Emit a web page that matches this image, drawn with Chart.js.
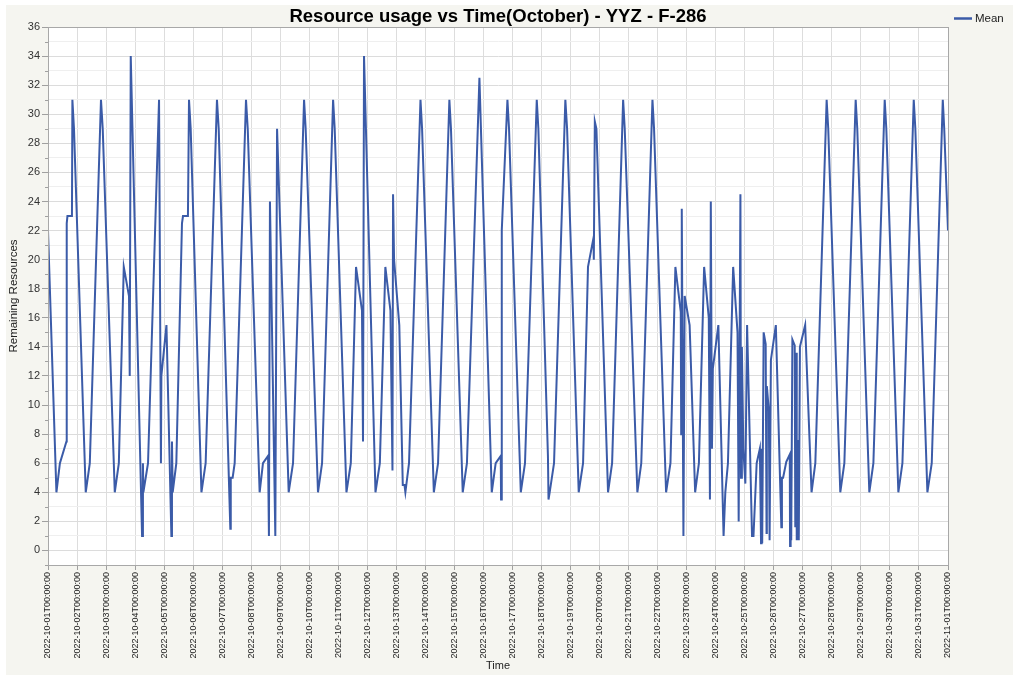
<!DOCTYPE html>
<html><head><meta charset="utf-8">
<script src="https://cdn.jsdelivr.net/npm/chart.js@4"></script>
<style>html,body{margin:0;padding:0;background:#fff;}canvas{display:block;}</style>
</head><body>
<canvas id="c" width="1013" height="675"></canvas>
<script>
// Time in days since 2022-10-01T00:00:00
const timeDays = [
  0.00,0.29,0.41,0.635,0.645,0.67,0.825,0.84,0.895,
  1.30,1.44,1.825,1.885,
  2.30,2.44,2.61,2.79,2.815,2.85,
  3.24,3.27,3.285,3.445,3.825,3.89,3.905,
  4.08,4.25,4.27,4.295,4.42,4.615,4.65,4.82,4.857,4.915,
  5.285,5.43,5.82,5.88,
  6.28,6.295,6.36,6.43,6.82,6.88,
  7.29,7.405,7.58,7.61,7.645,7.83,7.89,
  8.29,8.44,8.82,8.875,
  9.30,9.44,9.82,9.875,
  10.28,10.43,10.61,10.815,10.85,10.885,
  11.28,11.43,11.62,11.795,11.865,11.885,11.92,
  12.10,12.22,12.28,12.31,12.435,12.83,12.885,
  13.29,13.435,13.825,13.88,
  14.285,14.43,14.86,
  15.285,15.42,15.595,15.605,15.63,15.825,15.88,
  16.285,16.43,16.835,16.89,
  17.22,17.24,17.28,17.43,17.82,17.88,
  18.28,18.43,18.60,18.79,18.80,18.835,18.89,
  19.29,19.43,19.81,19.865,
  20.30,20.435,20.82,20.875,
  21.29,21.44,21.61,21.795,21.81,21.83,21.887,21.93,
  22.10,22.29,22.42,22.60,22.76,22.80,22.83,22.87,22.90,
  23.09,23.27,23.33,23.42,23.60,23.75,23.79,23.85,23.87,23.90,23.95,
  24.02,24.08,24.25,24.30,24.41,24.52,24.56,24.58,24.60,24.65,24.72,24.75,24.76,24.83,24.855,24.90,
  25.07,25.26,25.28,25.32,25.43,25.55,25.56,25.58,25.60,25.64,25.72,25.74,25.77,25.79,25.84,25.86,25.90,
  26.08,26.30,26.43,26.82,26.875,
  27.29,27.43,27.82,27.875,
  28.29,28.43,28.82,28.875,
  29.29,29.43,29.82,29.875,
  30.29,30.44,30.82,30.87,31.00
];
const meanValues = [
  22,4,6,7.5,22.5,23,23,31,29,
  4,6,31,29,
  4,6,19.5,17.5,12,34,
  1,6,4,6,31,6,12,
  15.5,1,7.5,4,6,22.5,23,23,31,29,
  4,6,31,29,
  1.5,5,5,6,31,29,
  4,6,6.5,1,24,1,29,
  4,6,31,29,
  4,6,31,29,
  4,6,19.5,16.5,7.5,34,
  4,6,19.5,16.5,5.5,24.5,20,
  15.5,4.5,4.5,4,6,31,29,
  4,6,31,29,
  4,6,32.5,
  4,6,6.5,3.5,22,31,29,
  4,6,31,29,
  6.5,3.5,4,6,31,29,
  4,6,19.5,21.5,20,29.5,29,
  4,6,31,29,
  4,6,31,29,
  4,6,19.5,16.4,8,23.5,1,17.5,
  15.5,4,6,19.5,16,3.5,24,7,12.5,
  15.5,1,4,6,19.5,15,2,24.5,5,14,7,
  4.6,15.5,1,1,6,7,0.5,7,0.5,15,14.2,1.2,11.3,9.6,0.7,13.1,
  15.5,1.6,5,5,6.1,6.6,0.3,5.1,0.7,14.5,14.1,1.6,13.6,0.7,7.6,0.7,14,
  15.5,4,6,31,29,
  4,6,31,29,
  4,6,31,29,
  4,6,31,29,
  4,6,31,29,22
];
const xTickLabels = [
  "2022-10-01T00:00:00","2022-10-02T00:00:00","2022-10-03T00:00:00","2022-10-04T00:00:00",
  "2022-10-05T00:00:00","2022-10-06T00:00:00","2022-10-07T00:00:00","2022-10-08T00:00:00",
  "2022-10-09T00:00:00","2022-10-10T00:00:00","2022-10-11T00:00:00","2022-10-12T00:00:00",
  "2022-10-13T00:00:00","2022-10-14T00:00:00","2022-10-15T00:00:00","2022-10-16T00:00:00",
  "2022-10-17T00:00:00","2022-10-18T00:00:00","2022-10-19T00:00:00","2022-10-20T00:00:00",
  "2022-10-21T00:00:00","2022-10-22T00:00:00","2022-10-23T00:00:00","2022-10-24T00:00:00",
  "2022-10-25T00:00:00","2022-10-26T00:00:00","2022-10-27T00:00:00","2022-10-28T00:00:00",
  "2022-10-29T00:00:00","2022-10-30T00:00:00","2022-10-31T00:00:00","2022-11-01T00:00:00"
];
const chartTitle = "Resource usage vs Time(October) - YYZ - F-286";
const seriesName = "Mean";
const xAxisTitle = "Time";
const yAxisTitle = "Remaining Resources";

const LINE_COLOR = '#3b5ba8';
const FONT = '"Liberation Sans", Arial, Helvetica, sans-serif';

const decor = {
  id: 'decor',
  beforeDraw(chart) {
    const ctx = chart.ctx, a = chart.chartArea;
    ctx.save();
    ctx.fillStyle = '#ffffff';
    ctx.fillRect(0, 0, chart.width, chart.height);
    ctx.fillStyle = '#f5f5f0';
    ctx.fillRect(6, 5, chart.width - 6, chart.height - 5);
    ctx.fillStyle = '#ffffff';
    ctx.fillRect(a.left, a.top, a.right - a.left, a.bottom - a.top);
    ctx.restore();
  },
  afterDraw(chart) {
    const ctx = chart.ctx, a = chart.chartArea;
    const ys = chart.scales.y;
    ctx.save();
    // minor ticks
    ctx.strokeStyle = '#a0a0a0';
    ctx.lineWidth = 1;
    for (let v = -1; v <= 36; v++) {
      if (v % 2 !== 0) {
        const y = Math.round(ys.getPixelForValue(v)) + 0.5;
        ctx.beginPath(); ctx.moveTo(a.left - 3, y); ctx.lineTo(a.left, y); ctx.stroke();
      }
    }
    // border
    ctx.strokeStyle = '#a8a8a8';
    ctx.strokeRect(Math.round(a.left) + 0.5, Math.round(a.top) + 0.5,
                   Math.round(a.right - a.left), Math.round(a.bottom - a.top));
    // title
    ctx.fillStyle = '#000';
    ctx.font = 'bold 18.5px ' + FONT;
    ctx.textAlign = 'center';
    ctx.textBaseline = 'middle';
    ctx.fillText(chartTitle, (a.left + a.right) / 2, 16.5);
    // legend
    const ds = chart.data.datasets[0];
    ctx.strokeStyle = ds.borderColor;
    ctx.lineWidth = 2.5;
    ctx.beginPath(); ctx.moveTo(954, 18.5); ctx.lineTo(972, 18.5); ctx.stroke();
    ctx.fillStyle = '#222';
    ctx.font = '11.5px ' + FONT;
    ctx.textAlign = 'left';
    ctx.fillText(ds.label, 975, 19);
    ctx.restore();
  }
};

new Chart(document.getElementById('c'), {
  type: 'line',
  data: {
    datasets: [{
      label: seriesName,
      data: timeDays.map((d, i) => ({ x: d, y: meanValues[i] })),
      borderColor: LINE_COLOR,
      backgroundColor: LINE_COLOR,
      borderWidth: 2,
      pointRadius: 0,
      tension: 0,
      fill: false
    }]
  },
  options: {
    responsive: false,
    animation: false,
    devicePixelRatio: 1,
    events: [],
    layout: { padding: { left: 0, right: 65, top: 27, bottom: 0 } },
    plugins: { legend: { display: false }, title: { display: false }, tooltip: { enabled: false } },
    scales: {
      x: {
        type: 'linear', min: 0, max: 31,
        afterFit(s) { s.height = 110; },
        ticks: {
          stepSize: 1, autoSkip: false, minRotation: 90, maxRotation: 90,
          font: { family: FONT, size: 9 }, color: '#222', padding: 2,
          callback: (v) => xTickLabels[Math.round(v)]
        },
        grid: { color: '#dddddd', tickLength: 5, tickColor: '#a0a0a0', lineWidth: 1 },
        border: { color: '#a8a8a8' },
        title: { display: true, text: xAxisTitle, font: { family: FONT, size: 11 }, color: '#222', padding: { top: 0, bottom: 2 } }
      },
      y: {
        type: 'linear', min: -1, max: 36,
        afterFit(s) { s.width = 48; },
        ticks: {
          stepSize: 1, autoSkip: false,
          font: { family: FONT, size: 11 }, color: '#333', padding: 2,
          callback: (v) => (v >= 0 && v % 2 === 0) ? String(v) : ''
        },
        grid: {
          color: (c) => (c.tick && c.tick.value % 2 === 0) ? '#dcdcdc' : '#efefef',
          tickLength: 6,
          tickColor: (c) => (c.tick && c.tick.value % 2 === 0) ? '#a0a0a0' : 'rgba(0,0,0,0)'
        },
        border: { color: '#a8a8a8' },
        title: { display: true, text: yAxisTitle, font: { family: FONT, size: 11.5 }, color: '#222', padding: { top: 7, bottom: 0 } }
      }
    }
  },
  plugins: [decor]
});
</script>
</body></html>
